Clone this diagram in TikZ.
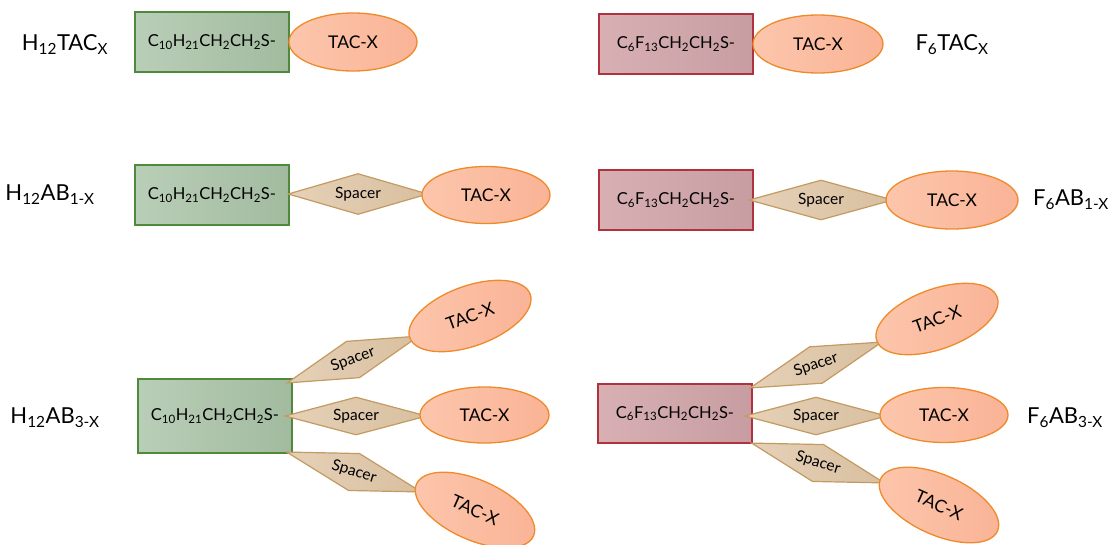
\documentclass[tikz,border=0pt]{standalone}
\usepackage{fontspec}
\setmainfont{Lato}
\usetikzlibrary{shapes.geometric}
\definecolor{gfillL}{HTML}{B9CEB7}
\definecolor{gfillR}{HTML}{A2BB9F}
\definecolor{gdraw}{HTML}{4F8A3C}
\definecolor{rfillL}{HTML}{D8B0B3}
\definecolor{rfillR}{HTML}{C79DA2}
\definecolor{rdraw}{HTML}{B0323F}
\definecolor{efillL}{HTML}{FCC6AC}
\definecolor{efillR}{HTML}{FAB396}
\definecolor{edraw}{HTML}{EE8A2A}
\definecolor{sfillL}{HTML}{E6D1B8}
\definecolor{sfillR}{HTML}{D8BF9F}
\definecolor{sdraw}{HTML}{C29A62}
\newcommand{\sbx}[1]{\textsubscript{#1}}
\begin{document}
\begin{tikzpicture}[x=1pt,y=-1pt,
  hchain/.style={rectangle,draw=gdraw,line width=1.2pt,left color=gfillL,right color=gfillR,
    minimum width=154pt,minimum height=60pt,inner sep=0pt,font=\fontsize{16.5}{18}\selectfont},
  fchain/.style={rectangle,draw=rdraw,line width=1.2pt,left color=rfillL,right color=rfillR,
    minimum width=154pt,minimum height=60pt,inner sep=0pt,font=\fontsize{16.5}{18}\selectfont},
  tac/.style={ellipse,draw=edraw,line width=1.3pt,left color=efillL,right color=efillR,
    minimum width=128pt,minimum height=58pt,inner sep=0pt,font=\fontsize{17.5}{19}\selectfont},
  spacer/.style={diamond,aspect=3.6,draw=sdraw,line width=1.2pt,left color=sfillL,right color=sfillR,
    minimum width=140pt,minimum height=39pt,inner sep=0pt,font=\fontsize{15.5}{17}\selectfont},
  lbl/.style={font=\fontsize{22}{24}\selectfont,inner sep=0pt}
]
\useasboundingbox (0,0) rectangle (1108,544);

% ---------- Row 1 ----------
\node[lbl] (l1) at (65,45) {H\sbx{12}TAC\sbx{X}};
\node[hchain] (h1) at (212,42) {C\sbx{10}H\sbx{21}CH\sbx{2}CH\sbx{2}S-};
\node[tac] (h1t) at (353,42) {TAC-X};

\node[fchain] (f1) at (676,44) {C\sbx{6}F\sbx{13}CH\sbx{2}CH\sbx{2}S-};
\node[tac, minimum width=130pt] (f1t) at (818,44) {TAC-X};
\node[lbl] (r1) at (952,45) {F\sbx{6}TAC\sbx{X}};

% ---------- Row 2 ----------
\node[lbl] (l2) at (50,195) {H\sbx{12}AB\sbx{1-X}};
\node[hchain] (h2) at (212,195) {C\sbx{10}H\sbx{21}CH\sbx{2}CH\sbx{2}S-};
\node[spacer, minimum height=41pt] (h2s) at (358,194) {Spacer};
\node[tac, minimum height=57pt] (h2t) at (486,195) {TAC-X};

\node[fchain] (f2) at (676,200) {C\sbx{6}F\sbx{13}CH\sbx{2}CH\sbx{2}S-};
\node[spacer, minimum width=144pt, minimum height=40pt] (f2s) at (821,200) {Spacer};
\node[tac, minimum width=132pt, minimum height=58pt] (f2t) at (952,200) {TAC-X};
\node[lbl] (r2) at (1071,200) {F\sbx{6}AB\sbx{1-X}};

% ---------- Row 3 left ----------
\node[lbl] (l3) at (55,418) {H\sbx{12}AB\sbx{3-X}};
\node[hchain, minimum height=74pt] (h3) at (215,416) {C\sbx{10}H\sbx{21}CH\sbx{2}CH\sbx{2}S-};
\node[spacer, rotate=19.6] (h3su) at (353,359.5) {Spacer};
\node[tac, rotate=20, minimum height=60pt] (h3tu) at (470,316) {TAC-X};
\node[spacer, minimum width=142pt, minimum height=38pt] (h3sm) at (356,416) {Spacer};
\node[tac, minimum width=129pt, minimum height=56pt] (h3tm) at (484.5,415) {TAC-X};
\node[spacer, rotate=-16.5, minimum width=141pt] (h3sd) at (354,472) {Spacer};
\node[tac, rotate=-24, minimum height=60pt] (h3td) at (475,510) {TAC-X};

% ---------- Row 3 right ----------
\node[fchain, minimum height=59pt] (f3) at (675,413.5) {C\sbx{6}F\sbx{13}CH\sbx{2}CH\sbx{2}S-};
\node[spacer, rotate=19.2] (f3su) at (816,365) {Spacer};
\node[tac, rotate=20, minimum height=60pt] (f3tu) at (937,319) {TAC-X};
\node[spacer, minimum width=142pt, minimum height=38pt] (f3sm) at (816,416) {Spacer};
\node[tac, minimum height=55pt] (f3tm) at (944,415) {TAC-X};
\node[spacer, rotate=-16.7, minimum width=139pt] (f3sd) at (818,463) {Spacer};
\node[tac, rotate=-24, minimum height=60pt] (f3td) at (939,505) {TAC-X};
\node[lbl] (r3) at (1065,418) {F\sbx{6}AB\sbx{3-X}};
\end{tikzpicture}
\end{document}
